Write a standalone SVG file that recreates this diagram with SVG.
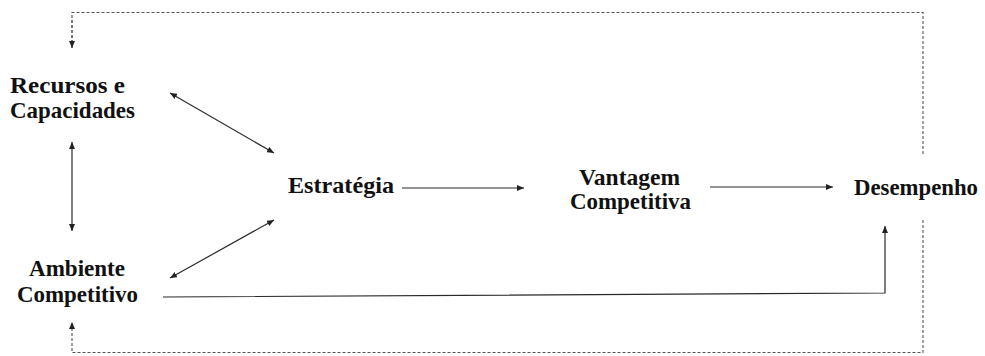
<svg xmlns="http://www.w3.org/2000/svg" width="985" height="356" viewBox="0 0 985 356">
  <style>
    .lbl { font-family: "Liberation Serif", "Times New Roman", serif; font-weight: bold; font-size: 23px; fill: #111; }
    .solid { fill: none; stroke: #2a2a2a; stroke-width: 1.2; }
    .dash { fill: none; stroke: #555; stroke-width: 1.1; stroke-dasharray: 3 2; }
  </style>
  <defs>
    <marker id="arrow" markerUnits="userSpaceOnUse" markerWidth="8" markerHeight="6" refX="7" refY="3" orient="auto-start-reverse">
      <path d="M0,0 L7,3 L0,6 Z" fill="#222"/>
    </marker>
  </defs>
  <rect width="985" height="356" fill="#fff"/>

  <g id="connectors">
    <!-- feedback loop (dashed) -->
    <polyline class="dash" points="72,48 72,12.5 923,12.5 923,155"/>
    <polyline class="dash" points="923,220 923,352.5 72,352.5 72,322" marker-end="url(#arrow)"/>
    <line class="dash" x1="72" y1="20" x2="72" y2="48" marker-end="url(#arrow)"/>
    <!-- resources <-> environment -->
    <line class="solid" x1="72" y1="142" x2="72" y2="231" marker-start="url(#arrow)" marker-end="url(#arrow)"/>
    <!-- resources <-> strategy -->
    <line class="solid" x1="170" y1="93" x2="274" y2="153" marker-start="url(#arrow)" marker-end="url(#arrow)"/>
    <!-- environment <-> strategy -->
    <line class="solid" x1="170" y1="278" x2="274" y2="220" marker-start="url(#arrow)" marker-end="url(#arrow)"/>
    <!-- strategy -> advantage -->
    <line class="solid" x1="402" y1="188" x2="524" y2="188" marker-end="url(#arrow)"/>
    <!-- advantage -> performance -->
    <line class="solid" x1="710" y1="187" x2="833" y2="187" marker-end="url(#arrow)"/>
    <!-- environment -> performance -->
    <polyline class="solid" points="163,297 885,293 885,226" marker-end="url(#arrow)"/>
  </g>

  <g id="recursos">
    <text class="lbl" x="10" y="93" textLength="115" lengthAdjust="spacingAndGlyphs">Recursos e</text>
    <text class="lbl" x="10" y="118" textLength="125" lengthAdjust="spacingAndGlyphs">Capacidades</text>
  </g>
  <g id="ambiente">
    <text class="lbl" x="29" y="276" textLength="96" lengthAdjust="spacingAndGlyphs">Ambiente</text>
    <text class="lbl" x="17" y="302" textLength="121" lengthAdjust="spacingAndGlyphs">Competitivo</text>
  </g>
  <g id="estrategia">
    <text class="lbl" x="288" y="193" textLength="106" lengthAdjust="spacingAndGlyphs">Estratégia</text>
  </g>
  <g id="vantagem">
    <text class="lbl" x="579" y="185" textLength="101" lengthAdjust="spacingAndGlyphs">Vantagem</text>
    <text class="lbl" x="570" y="209" textLength="121" lengthAdjust="spacingAndGlyphs">Competitiva</text>
  </g>
  <g id="desempenho">
    <text class="lbl" x="854" y="195" textLength="124" lengthAdjust="spacingAndGlyphs">Desempenho</text>
  </g>
</svg>
